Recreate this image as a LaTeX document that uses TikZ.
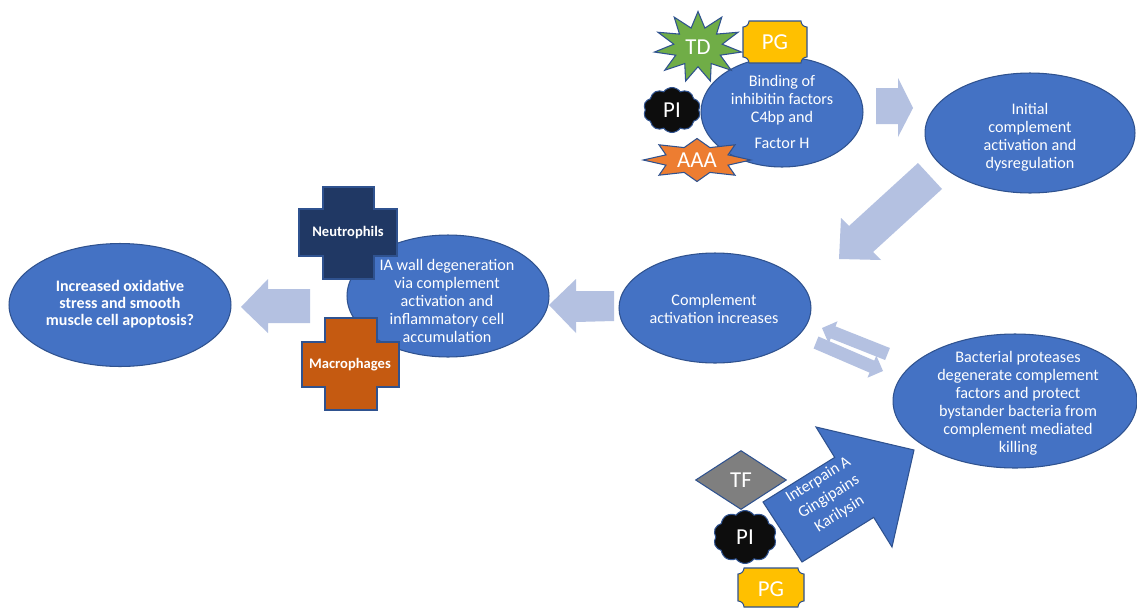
\documentclass[tikz,border=0pt]{standalone}
\usepackage{fontspec}
\setmainfont{Carlito}
\usetikzlibrary{shapes.geometric,shapes.symbols}
\definecolor{ellblue}{HTML}{4472C4}
\definecolor{edge}{HTML}{2F528F}
\definecolor{lightarr}{HTML}{B4C1E1}
\definecolor{tdgreen}{HTML}{70AD47}
\definecolor{pgyellow}{HTML}{FFC000}
\definecolor{aaaorange}{HTML}{ED7D31}
\definecolor{tfgray}{HTML}{7F7F7F}
\definecolor{piblack}{HTML}{0D0D0D}
\definecolor{neutro}{HTML}{203864}
\definecolor{macro}{HTML}{C55A11}
\newcommand\plaquepath[4]{%
 (#1+6,#2) -- (#3-6,#2) arc[start angle=180,end angle=270,radius=0.12cm]
 -- (#3,#4-6) arc[start angle=90,end angle=180,radius=0.12cm]
 -- (#1+6,#4) arc[start angle=0,end angle=90,radius=0.12cm]
 -- (#1,#2+6) arc[start angle=270,end angle=360,radius=0.12cm] -- cycle}
\begin{document}
\begin{tikzpicture}[x=0.02cm,y=-0.02cm,
 ell/.style={ellipse, fill=ellblue, draw=edge, line width=0.6pt, inner sep=0pt},
 txt/.style={text=white, align=center, font=\fontsize{9.2}{10.2}\selectfont, inner sep=0pt},
 btxt/.style={text=white, align=center, font=\fontsize{9.1}{9.7}\selectfont\bfseries, inner sep=0pt},
 bigtxt/.style={text=white, font=\fontsize{13}{15}\selectfont, inner sep=0pt},
 celltxt/.style={text=white, font=\fontsize{8.3}{9}\selectfont\bfseries, inner sep=0pt},
 larrow/.style={fill=lightarr},
 barrow/.style={fill=ellblue, draw=edge, line width=0.6pt},
 deco/.style={draw=edge, line width=0.6pt},
]
\useasboundingbox[fill=white] (0,0) rectangle (1137,609);

% ---- ellipses
\node[ell, minimum width=3.24cm, minimum height=2.2cm] (bind) at (782,112) {};
\node[txt] at (782,112) {Binding of\\inhibitin factors\\C4bp and\\[5pt]Factor H};

\node[ell, minimum width=4.2cm, minimum height=2.4cm] (init) at (1030,133) {};
\node[txt] at (1030,137) {Initial\\complement\\activation and\\dysregulation};

\node[ell, minimum width=3.84cm, minimum height=2.2cm] (comp) at (715,308) {};
\node[txt] at (714,309) {Complement\\activation increases};

\node[ell, minimum width=4.04cm, minimum height=2.44cm] (ia) at (448,296) {};
\node[txt] at (447,301) {IA wall degeneration\\via complement\\activation and\\inflammatory cell\\accumulation};

\node[ell, minimum width=4.44cm, minimum height=2.46cm] (incr) at (120,305) {};
\node[btxt] at (120,304) {Increased oxidative\\stress and smooth\\muscle cell apoptosis?};

\node[ell, minimum width=4.88cm, minimum height=2.68cm] (bact) at (1015,401) {};
\node[txt] at (1018,403) {Bacterial proteases\\degenerate complement\\factors and protect\\bystander bacteria from\\complement mediated\\killing};

% ---- light block arrows
\fill[larrow] (876,88) -- (898,88) -- (898,78) -- (913,108) -- (898,137) -- (898,124) -- (876,124) -- cycle;
\fill[larrow] (918,163) -- (849,226) -- (841,218) -- (839,259) -- (881,260) -- (873,252) -- (942,189) -- cycle;
\fill[larrow] (614,291) -- (576,291) -- (576,279) -- (549,305) -- (576,333) -- (576,322) -- (614,321) -- cycle;
\fill[larrow] (310,289) -- (268,289) -- (268,279) -- (241,307) -- (268,333) -- (268,323) -- (310,323) -- cycle;
\fill[larrow] (889.9,348) -- (835.5,326.4) -- (837.5,321.3) -- (822,328) -- (828.7,343.5) -- (830.7,338.4) -- (885.1,360) -- cycle;
\fill[larrow] (818.4,336.5) -- (874.3,360.6) -- (876.3,355.5) -- (883,371) -- (867.5,377.7) -- (869.5,372.6) -- (813.6,348.5) -- cycle;

% ---- top cluster
\node[star, star points=11, star point ratio=1.8, minimum size=1.42cm, xscale=1.24,
      fill=tdgreen, deco, inner sep=0pt] (td) at (698,47) {};
\node[bigtxt] at (td.center) {TD};
\draw[fill=pgyellow, deco] \plaquepath{743}{21}{807}{63};
\node[bigtxt] (pg1) at (775,42) {PG};
\node[cloud, cloud puffs=10, cloud puff arc=110, cloud ignores aspect, minimum width=1.14cm, minimum height=0.9cm,
      fill=piblack, deco, inner sep=0pt] (pi1) at (672,110) {};
\node[bigtxt] at (pi1.center) {PI};
\node[star, star points=8, star point ratio=1.6, minimum size=0.86cm, xscale=2.5,
      fill=aaaorange, deco, inner sep=0pt] (aaa) at (697,160) {};
\node[bigtxt] at (aaa.center) {AAA};

% ---- cells
\draw[fill=neutro, deco] (323,187) -- (374,187) -- (374,209) -- (397,209) -- (397,256) -- (374,256)
  -- (374,279) -- (323,279) -- (323,256) -- (299,256) -- (299,209) -- (323,209) -- cycle;
\node[celltxt] (neu) at (348,233) {Neutrophils};
\draw[fill=macro, deco] (325,318) -- (377,318) -- (377,342) -- (399,342) -- (399,387) -- (377,387)
  -- (377,410) -- (325,410) -- (325,387) -- (302,387) -- (302,342) -- (325,342) -- cycle;
\node[celltxt] (mac) at (350,365) {Macrophages};

% ---- bottom cluster
\draw[barrow] (763,502) -- (834.7,457.4) -- (816,427) -- (914,450) -- (892,547) -- (873.7,517.4) -- (802,562) -- cycle;
\node[txt, rotate=31.8, font=\fontsize{9.2}{11.5}\selectfont] (enz) at (829,497) {Interpain A\\Gingipains\\Karilysin};
\node[diamond, minimum width=1.82cm, minimum height=1.18cm, fill=tfgray, deco, inner sep=0pt] (tf) at (741,480) {};
\node[bigtxt] at (tf.center) {TF};
\node[cloud, cloud puffs=10, cloud puff arc=110, cloud ignores aspect, minimum width=1.26cm, minimum height=1.06cm,
      fill=piblack, deco, inner sep=0pt] (pi2) at (745,537) {};
\node[bigtxt] at (pi2.center) {PI};
\draw[fill=pgyellow, deco] \plaquepath{738}{568}{804}{607};
\node[bigtxt] (pg2) at (771,589) {PG};
\end{tikzpicture}
\end{document}
